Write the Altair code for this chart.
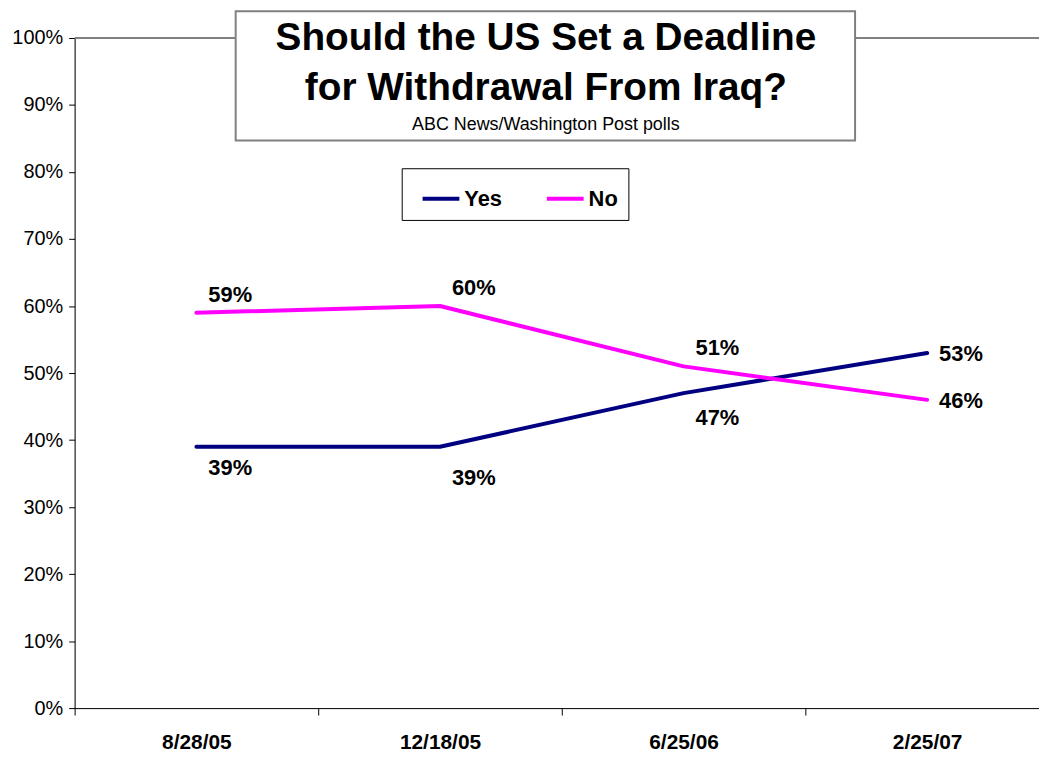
import altair as alt
import pandas as pd

dates = ["8/28/05", "12/18/05", "6/25/06", "2/25/07"]
yes_vals = [39, 39, 47, 53]
no_vals = [59, 60, 51, 46]
series_names = ["Yes", "No"]
series_colors = ["#000080", "#FF00FF"]
y_ticks = [0, 10, 20, 30, 40, 50, 60, 70, 80, 90, 100]

rows = []
for i, d in enumerate(dates):
    rows.append({"date": d, "idx": i, "series": "Yes", "value": yes_vals[i], "label": f"{yes_vals[i]}%"})
    rows.append({"date": d, "idx": i, "series": "No", "value": no_vals[i], "label": f"{no_vals[i]}%"})
df = pd.DataFrame(rows)

FONT = "Liberation Sans"
W = 970
H = 674

x_enc = alt.X(
    "date:N", sort=dates, bandPosition=0.5,
    scale=alt.Scale(type="band", paddingInner=0, paddingOuter=0, range=[0, 980]),
    axis=alt.Axis(title=None, labelAngle=0, labelFontSize=21, labelFontWeight="bold",
                  labelFont=FONT, labelColor="black", tickBand="extent", tickSize=7,
                  tickColor="black", domainColor="black", labelPadding=17, grid=False),
)
y_enc = alt.Y(
    "value:Q",
    scale=alt.Scale(domain=[0, 100]),
    axis=alt.Axis(title=None, values=y_ticks, labelExpr="datum.value + '%'",
                  labelFontSize=20, labelFont=FONT, labelColor="black", tickSize=6,
                  tickColor="black", domainColor="black", labelPadding=6, grid=False),
)

base = alt.Chart(df)

top_rule = alt.Chart(alt.Data(values=[{}])).mark_rule(color="#808080", strokeWidth=2).encode(
    y=alt.datum(100, scale=alt.Scale(domain=[0, 100]))
)

lines = base.mark_line(strokeWidth=4, strokeCap="round", strokeJoin="round").encode(
    x=x_enc, y=y_enc,
    color=alt.Color("series:N", scale=alt.Scale(domain=series_names, range=series_colors),
                    legend=alt.Legend(orient="none", legendX=329, legendY=131, direction="horizontal",
                                      title=None, strokeColor="black", fillColor="white",
                                      padding=10, symbolType="stroke", symbolStrokeWidth=4,
                                      symbolSize=1369, labelFontSize=22, labelFontWeight="bold",
                                      labelFont=FONT, labelColor="black", columnPadding=34,
                                      labelOffset=3, symbolOffset=9)),
    order="idx:Q",
)

def labels(flt, dy):
    return base.transform_filter(flt).mark_text(
        align="left", baseline="middle", dx=12, dy=dy, fontSize=22, fontWeight="bold",
        font=FONT, color="black"
    ).encode(x=x_enc, y=y_enc, text="label:N")

last = len(dates) - 1
lab_no = labels(f"datum.series == 'No' && datum.idx < {last}", -18)
lab_yes0 = labels("datum.series == 'Yes' && datum.idx == 0", 21)
lab_yes1 = labels("datum.series == 'Yes' && datum.idx == 1", 31)
lab_yes2 = labels("datum.series == 'Yes' && datum.idx == 2", 25)
lab_last = labels(f"datum.idx == {last}", 1)

ann = alt.Data(values=[{}])
title_box = alt.Chart(ann).mark_rect(fill="white", stroke="#808080", strokeWidth=2).encode(
    x=alt.value(162), x2=alt.value(785), y=alt.value(-27), y2=alt.value(103)
)
t1 = alt.Chart(ann).mark_text(fontSize=39, fontWeight="bold", font=FONT, align="center",
                              baseline="alphabetic", color="black").encode(
    x=alt.value(474), y=alt.value(12), text=alt.value("Should the US Set a Deadline"))
t2 = alt.Chart(ann).mark_text(fontSize=39, fontWeight="bold", font=FONT, align="center",
                              baseline="alphabetic", color="black").encode(
    x=alt.value(474), y=alt.value(62), text=alt.value("for Withdrawal From Iraq?"))
t3 = alt.Chart(ann).mark_text(fontSize=18, font=FONT, align="center",
                              baseline="alphabetic", color="black").encode(
    x=alt.value(474), y=alt.value(93), text=alt.value("ABC News/Washington Post polls"))

chart = alt.layer(top_rule, lines, lab_no, lab_yes0, lab_yes1, lab_yes2, lab_last,
                  title_box, t1, t2, t3).properties(
    width=W, height=H,
    autosize=alt.AutoSizeParams(type="none"),
    padding={"left": 67, "top": 28, "right": 0, "bottom": 45},
).configure_view(strokeWidth=0).configure(background="white")

chart.save("out.html", embed_options={"renderer": "svg", "actions": False})
